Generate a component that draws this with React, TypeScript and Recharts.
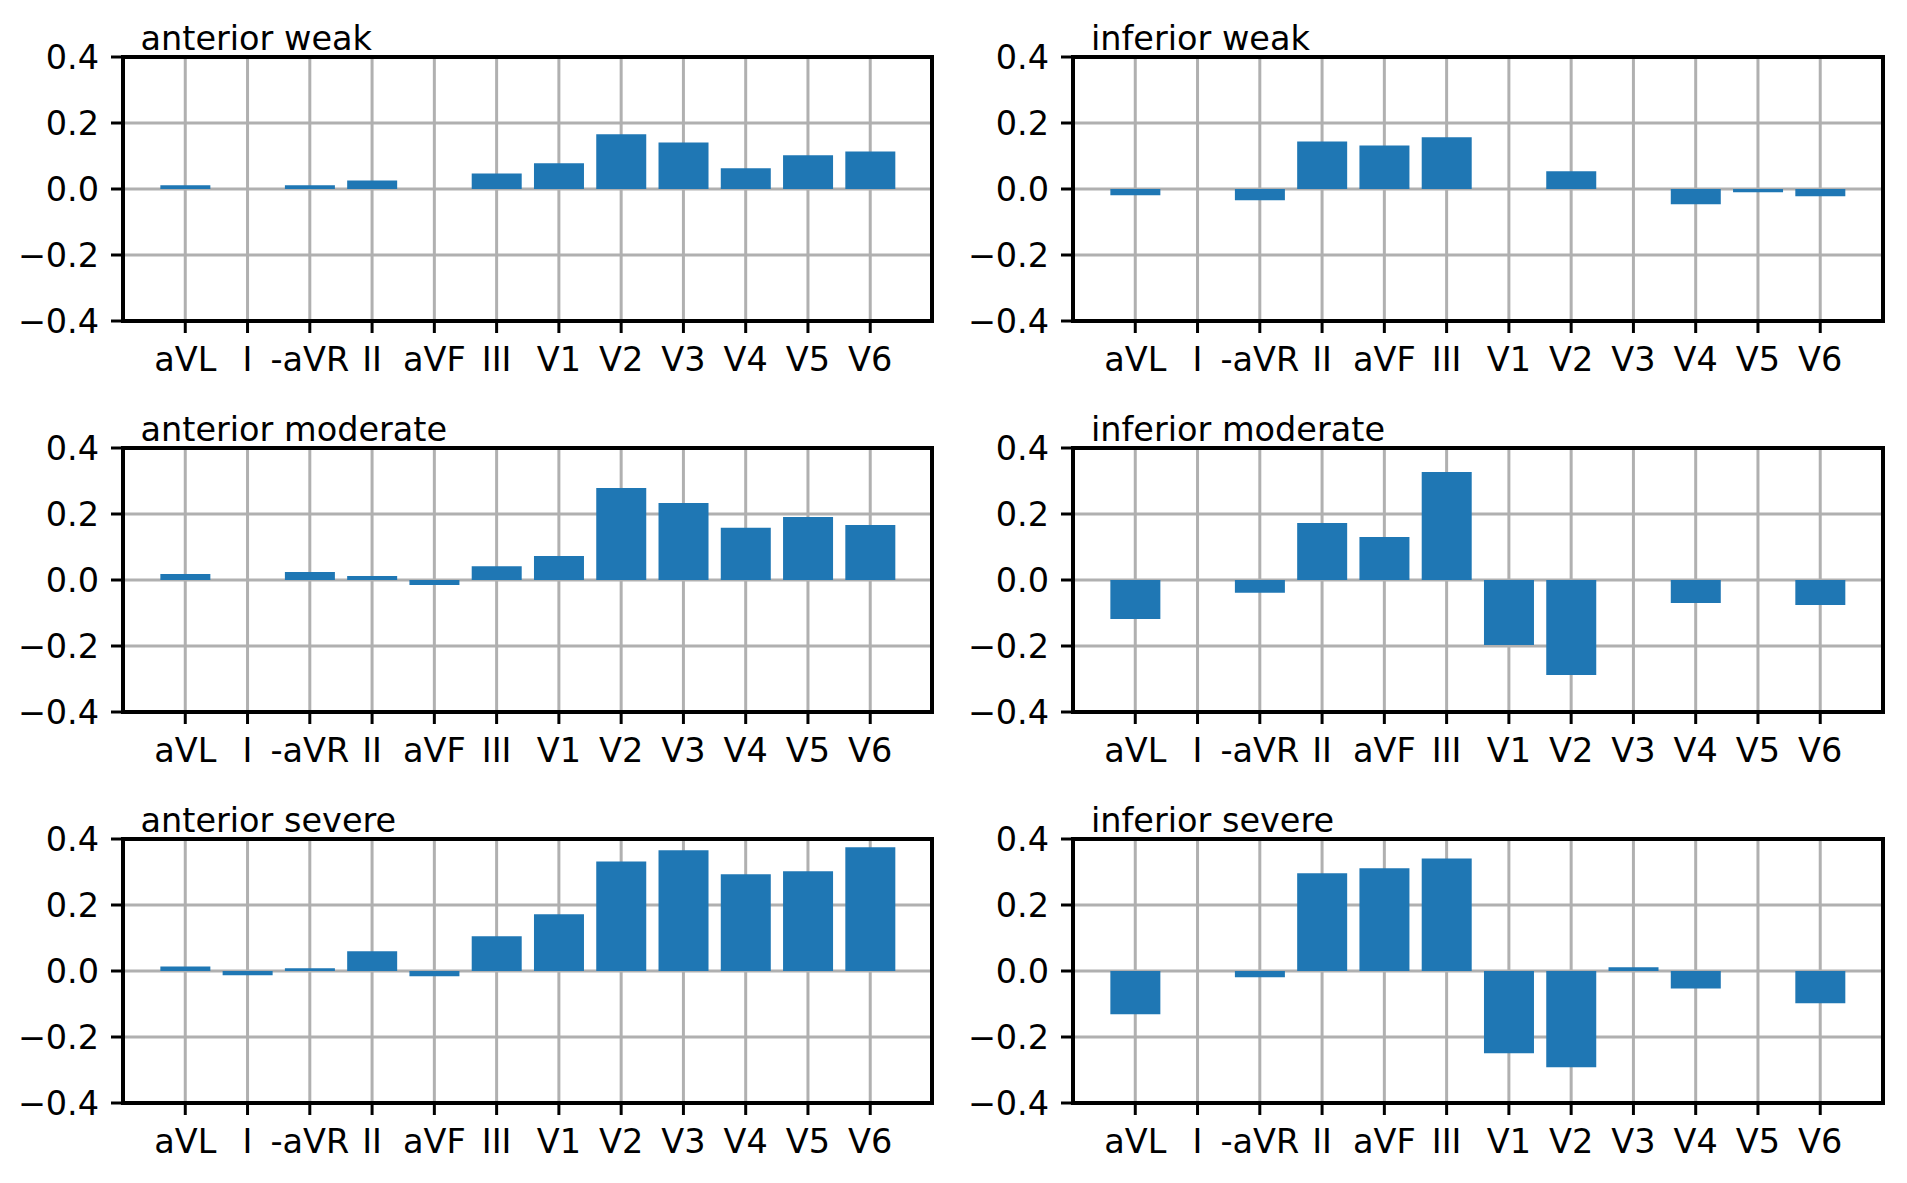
import { BarChart, Bar, XAxis, YAxis, CartesianGrid } from 'recharts';

const leads = ['aVL', 'I', '-aVR', 'II', 'aVF', 'III', 'V1', 'V2', 'V3', 'V4', 'V5', 'V6'];

const anteriorWeak = [0.011, 0, 0.011, 0.026, 0, 0.047, 0.078, 0.166, 0.141, 0.063, 0.102, 0.114];
const inferiorWeak = [-0.019, 0, -0.034, 0.144, 0.132, 0.157, 0, 0.054, 0, -0.046, -0.01, -0.022];
const anteriorModerate = [0.018, 0, 0.024, 0.012, -0.015, 0.042, 0.073, 0.279, 0.233, 0.158, 0.191, 0.167];
const inferiorModerate = [-0.118, 0, -0.039, 0.173, 0.13, 0.327, -0.197, -0.288, 0, -0.07, 0, -0.076];
const anteriorSevere = [0.014, -0.013, 0.008, 0.06, -0.016, 0.105, 0.172, 0.332, 0.366, 0.293, 0.302, 0.375];
const inferiorSevere = [-0.131, 0, -0.019, 0.296, 0.311, 0.341, -0.249, -0.292, 0.011, -0.053, 0, -0.098];

const yTicks = [-0.4, -0.2, 0, 0.2, 0.4];
const innerGridValues = [-0.2, 0, 0.2];

const FONT = 'DejaVu Sans';
const FONT_SIZE = 33.5;
const PLOT_W = 809.5;
const PLOT_H = 264;
const Y_AXIS_W = 110;
const X_AXIS_H = 60;
const TOP = 30;
const RIGHT = 20;
const GRID_W = 3;
const SPINE_W = 4;
const TICK = 12;

const panels = [
  { title: 'anterior weak', values: anteriorWeak, left: 122.5, top: 57 },
  { title: 'inferior weak', values: inferiorWeak, left: 1073, top: 57 },
  { title: 'anterior moderate', values: anteriorModerate, left: 122.5, top: 448 },
  { title: 'inferior moderate', values: inferiorModerate, left: 1073, top: 448 },
  { title: 'anterior severe', values: anteriorSevere, left: 122.5, top: 839 },
  { title: 'inferior severe', values: inferiorSevere, left: 1073, top: 839 },
];

const fmt = (v: number) => (v < 0 ? '\u2212' + Math.abs(v).toFixed(1) : v.toFixed(1));

const tickStyle = { fill: '#000', fontSize: FONT_SIZE, fontFamily: FONT };
const tickLineStyle = { stroke: '#000', strokeWidth: GRID_W };

const Panel = ({ title, values, left, top }: { title: string; values: number[]; left: number; top: number }) => {
  const data = leads.map((lead, i) => ({ lead, value: values[i] }));
  const pad = PLOT_W / 26;
  return (
    <>
      <div style={{ position: 'absolute', left: left - Y_AXIS_W, top: top - TOP }}>
        <BarChart
          width={PLOT_W + Y_AXIS_W + RIGHT}
          height={PLOT_H + TOP + X_AXIS_H}
          data={data}
          margin={{ top: TOP, right: RIGHT, bottom: 0, left: 0 }}
          barCategoryGap="10%"
        >
          <Bar dataKey="value" fill="#1f77b4" isAnimationActive={false} />
          <CartesianGrid stroke="#b0b0b0" strokeWidth={GRID_W} horizontalValues={innerGridValues} />
          <XAxis
            dataKey="lead"
            type="category"
            interval={0}
            padding={{ left: pad, right: pad }}
            height={X_AXIS_H}
            tickSize={TICK}
            tickMargin={14}
            tick={tickStyle}
            axisLine={false}
            tickLine={tickLineStyle}
          />
          <YAxis
            type="number"
            domain={[-0.4, 0.4]}
            ticks={yTicks}
            allowDataOverflow
            width={Y_AXIS_W}
            tickSize={TICK}
            tickMargin={12}
            tickFormatter={fmt}
            tick={tickStyle}
            axisLine={false}
            tickLine={tickLineStyle}
          />
        </BarChart>
      </div>
      <div
        style={{
          position: 'absolute',
          left: left + 18,
          top: top - 7 - 0.846 * FONT_SIZE,
          fontSize: FONT_SIZE,
          lineHeight: 1,
          fontFamily: FONT,
          whiteSpace: 'nowrap',
        }}
      >
        {title}
      </div>
      {/* axes frame (spines) on top of grid */}
      <div
        style={{
          position: 'absolute',
          left: left - SPINE_W / 2,
          top: top - SPINE_W / 2,
          width: PLOT_W + SPINE_W,
          height: PLOT_H + SPINE_W,
          border: `${SPINE_W}px solid #000`,
          boxSizing: 'border-box',
          pointerEvents: 'none',
        }}
      />
    </>
  );
};

export default function App() {
  return (
    <div style={{ position: 'absolute', left: 0, top: 0, width: 1907, height: 1183, background: '#fff', fontFamily: FONT }}>
      {panels.map((p) => (
        <Panel key={p.title} {...p} />
      ))}
    </div>
  );
}
